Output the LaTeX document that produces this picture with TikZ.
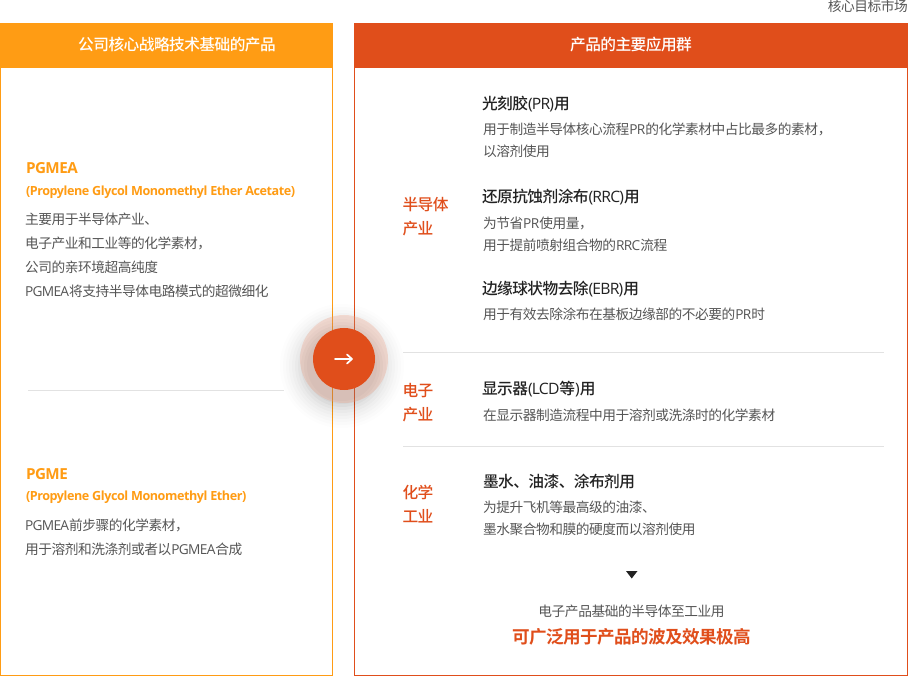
\documentclass[tikz,border=0pt]{standalone}
\usepackage{fontspec}
\setmainfont{Noto Sans CJK SC}
\newfontfamily\cj[LetterSpace=-3.2]{Noto Sans CJK SC}
\newfontfamily\lt[LetterSpace=-5]{Open Sans}
\newfontfamily\ltb[LetterSpace=-3.5,BoldFont={Open Sans Bold}]{Open Sans}
\newfontfamily\cjb[LetterSpace=-3.5]{Noto Sans CJK SC Bold}
\newfontfamily\cjm[LetterSpace=-3.5]{Noto Sans CJK SC Medium}
\newcommand{\sz}[1]{\fontsize{#1}{#1}\selectfont}
\newcommand{\La}[1]{{\lt #1}}
\definecolor{orangeC}{HTML}{FF9C14}
\definecolor{redC}{HTML}{E04E1B}
\definecolor{bodyC}{HTML}{555555}
\definecolor{headC}{HTML}{222222}
\definecolor{ruleC}{HTML}{E2E2E2}
\tikzset{
  x=1pt,y=-1pt,
  txt/.style={anchor=base west,inner sep=0pt,outer sep=0pt},
  body/.style={txt,text=bodyC,font=\cj\sz{13.7}},
  head/.style={txt,text=headC,font=\cjm\sz{15.7}},
  cat/.style={txt,text=redC,font=\cjm\sz{15.7}},
  bannerT/.style={inner sep=0pt,text=white,font=\cjm\sz{15.7}},
  ptitle/.style={txt,text=orangeC,font=\ltb\bfseries\sz{15.2}},
  psub/.style={txt,text=orangeC,font=\ltb\bfseries\sz{12.6}},
}
\begin{document}
\begin{tikzpicture}
\useasboundingbox (0,0) rectangle (908,676);
\fill[white] (0,0) rectangle (908,676);
% panels
\draw[orangeC,line width=1pt] (.5,23.5) rectangle (332.5,675.5);
\draw[redC,line width=1pt] (354.5,23.5) rectangle (907.5,675.5);
\fill[orangeC] (0,23) rectangle (333,68);
\fill[redC] (354,23) rectangle (908,68);
\node[bannerT] (lban) at (177,44.5) {公司核心战略技术基础的产品};
\node[bannerT] (rban) at (631,45) {产品的主要应用群};
\node[anchor=base east,inner sep=0pt,text=bodyC,font=\cj\sz{13.7}] (mk) at (908,12) {核心目标市场};
% left
\node[ptitle] (t1) at (26,174) {PGMEA};
\node[psub] (s1) at (26,195.5) {(Propylene Glycol Monomethyl Ether Acetate)};
\node[body] (b1) at (25,225) {主要用于半导体产业、};
\node[body] (b2) at (25,249) {电子产业和工业等的化学素材，};
\node[body] (b3) at (25,273) {公司的亲环境超高纯度};
\node[body] (b4) at (25,297) {\La{PGMEA}将支持半导体电路模式的超微细化};
\draw[ruleC,line width=.8pt] (28,390.5) -- (284,390.5);
\node[ptitle] (t2) at (26,479) {PGME};
\node[psub] (s2) at (26,500) {(Propylene Glycol Monomethyl Ether)};
\node[body] (b5) at (25,530) {\La{PGMEA}前步骤的化学素材，};
\node[body] (b6) at (25,554) {用于溶剂和洗涤剂或者以\La{PGMEA}合成};
% right categories
\node[cat] (c1) at (402.5,211) {半导体};
\node[cat] (c2) at (402.5,235) {产业};
\node[cat] (c3) at (402.5,396.5) {电子};
\node[cat] (c4) at (402.5,420) {产业};
\node[cat] (c5) at (402.5,498) {化学};
\node[cat] (c6) at (402.5,522) {工业};
% right items
\node[head] (h1) at (482,110) {光刻胶\La{(PR)}用};
\node[body] (d1) at (483,135) {用于制造半导体核心流程\La{PR}的化学素材中占比最多的素材，};
\node[body] (d2) at (483,157) {以溶剂使用};
\node[head] (h2) at (482,203) {还原抗蚀剂涂布\La{(RRC)}用};
\node[body] (d3) at (483,228.5) {为节省\La{PR}使用量，};
\node[body] (d4) at (483,250.5) {用于提前喷射组合物的\La{RRC}流程};
\node[head] (h3) at (482,295) {边缘球状物去除\La{(EBR)}用};
\node[body] (d5) at (483,320) {用于有效去除涂布在基板边缘部的不必要的\La{PR}时};
\draw[ruleC,line width=.8pt] (403,352.5) -- (884,352.5);
\node[head] (h4) at (482,395) {显示器\La{(LCD}等\La{)}用};
\node[body] (d6) at (483,420) {在显示器制造流程中用于溶剂或洗涤时的化学素材};
\draw[ruleC,line width=.8pt] (403,446.5) -- (884,446.5);
\node[head] (h5) at (483,487) {墨水、油漆、涂布剂用};
\node[body] (d7) at (483,512) {为提升飞机等最高级的油漆、};
\node[body] (d8) at (483,534) {墨水聚合物和膜的硬度而以溶剂使用};
\fill[headC] (626,571) -- (637.5,571) -- (631.75,578.5) -- cycle;
\node[anchor=base,inner sep=0pt,text=bodyC,font=\cj\sz{13.7}] (e1) at (631.5,616) {电子产品基础的半导体至工业用};
\node[anchor=base,inner sep=0pt,text=redC,font=\cjb\sz{17.6}] (e2) at (631.5,643) {可广泛用于产品的波及效果极高};
% badge shadow
\foreach \r/\o in {62/.008,59/.01,56/.012,53/.014,50/.016,47/.02,44/.024,41/.03,38/.03,35/.03}{
  \fill[black,opacity=\o] (342,366) circle (\r);
}
\fill[redC!55!white,opacity=.3] (344,359) circle (44);
\node[circle,fill=redC,minimum size=62pt,inner sep=0pt] (badge) at (344,359) {};
\draw[white,line width=1.9pt,line cap=round] (335,359) -- (351.5,359);
\draw[white,line width=1.7pt,line cap=round,line join=round] (347,354.5) -- (352,359) -- (347,363.5);
\end{tikzpicture}
\end{document}
